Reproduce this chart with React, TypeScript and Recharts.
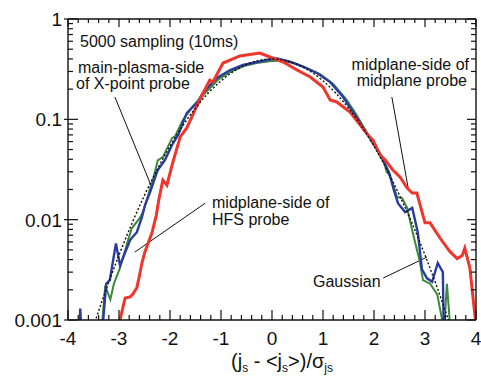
import React from 'react';
import { LineChart, Line, XAxis, YAxis, ReferenceLine } from 'recharts';

const FONT = '"Liberation Sans", Arial, Helvetica, sans-serif';

// tick positions
const xTicks = [
  -4, -3.8, -3.6, -3.4, -3.2, -3, -2.8, -2.6, -2.4, -2.2, -2, -1.8, -1.6, -1.4, -1.2, -1, -0.8, -0.6, -0.4, -0.2,
  0, 0.2, 0.4, 0.6, 0.8, 1, 1.2, 1.4, 1.6, 1.8, 2, 2.2, 2.4, 2.6, 2.8, 3, 3.2, 3.4, 3.6, 3.8, 4,
];
const yTicks = [
  0.001, 0.002, 0.003, 0.004, 0.005, 0.006, 0.007, 0.008, 0.009,
  0.01, 0.02, 0.03, 0.04, 0.05, 0.06, 0.07, 0.08, 0.09,
  0.1, 0.2, 0.3, 0.4, 0.5, 0.6, 0.7, 0.8, 0.9, 1,
];
const yMajor = [0.001, 0.01, 0.1, 1];
const yMajorLabels = ['0.001', '0.01', '0.1', '1'];

// midplane-side of midplane probe (red)
const redX = [
  -3.05, -2.98, -2.88, -2.78, -2.73, -2.65, -2.61, -2.55, -2.49, -2.35, -2.27, -2.22, -2.14, -2.06, -1.96, -1.8,
  -1.67, -1.51, -1.35, -1.22, -1.16, -0.96, -0.63, -0.24, -0.04, 0.22, 0.49, 0.75, 1.0, 1.14, 1.27, 1.53, 1.73,
  1.88, 1.98, 2.12, 2.22, 2.37, 2.51, 2.65, 2.75, 2.84, 3.0, 3.1, 3.29, 3.49, 3.63, 3.73, 3.78, 3.88, 3.98, 4.02,
];
const redY = [
  0.0007, 0.001, 0.00166, 0.0017, 0.0018, 0.0021, 0.0026, 0.0037, 0.0048, 0.0075, 0.011, 0.0157, 0.0248, 0.0221,
  0.035, 0.0667, 0.082, 0.124, 0.183, 0.246, 0.236, 0.364, 0.428, 0.458, 0.418, 0.373, 0.31, 0.264, 0.21, 0.156,
  0.149, 0.118, 0.0877, 0.0697, 0.0622, 0.0441, 0.0393, 0.0312, 0.0266, 0.0207, 0.0184, 0.0184, 0.0093, 0.0093,
  0.0066, 0.0048, 0.0041, 0.0044, 0.0052, 0.0033, 0.0011, 0.0007,
];

// main-plasma-side of X-point probe (blue)
const blueX = [
  -3.8, -3.76, -3.72, -3.4, -3.31, -3.25, -3.18, -3.06, -2.98, -2.88, -2.78, -2.65, -2.55, -2.49, -2.39, -2.29,
  -2.24, -2.1, -1.96, -1.84, -1.75, -1.67, -1.47, -1.35, -1.08, -0.82, -0.57, -0.29, -0.1, 0.1, 0.35, 0.61, 0.88,
  1.14, 1.39, 1.59, 1.82, 2.06, 2.18, 2.3, 2.39, 2.47, 2.61, 2.75, 2.86, 2.94, 3.04, 3.14, 3.25, 3.35, 3.37,
];
const blueY = [
  0.0005, 0.0013, 0.0005, 0.0005, 0.001, 0.0023, 0.0025, 0.0058, 0.0035, 0.0047, 0.0063, 0.0075, 0.0106, 0.014,
  0.0188, 0.0266, 0.0312, 0.0393, 0.0555, 0.0697, 0.092, 0.116, 0.146, 0.185, 0.258, 0.31, 0.348, 0.373, 0.39,
  0.405, 0.375, 0.335, 0.29, 0.235, 0.168, 0.118, 0.078, 0.05, 0.039, 0.029, 0.0197, 0.0146, 0.0119, 0.0131,
  0.0074, 0.0032, 0.0026, 0.0024, 0.0037, 0.003, 0.0006,
];

// midplane-side of HFS probe (green)
const greenX = [
  -3.36, -3.27, -3.17, -3.1, -2.98, -2.82, -2.75, -2.59, -2.53, -2.45, -2.39, -2.33, -2.24, -2.14, -1.96, -1.9,
  -1.75, -1.55, -1.3, -1.05, -0.8, -0.55, -0.3, -0.05, 0.2, 0.45, 0.7, 0.95, 1.2, 1.45, 1.65, 1.85, 2.05, 2.18,
  2.25, 2.3, 2.41, 2.45, 2.55, 2.65, 2.76, 2.9, 2.96, 3.1, 3.24, 3.33, 3.39, 3.43, 3.49, 3.52,
];
const greenY = [
  0.0006, 0.0022, 0.0016, 0.0023, 0.0033, 0.0063, 0.0082, 0.0104, 0.0119, 0.016, 0.0205, 0.0256, 0.039, 0.042,
  0.065, 0.068, 0.098, 0.135, 0.185, 0.25, 0.3, 0.34, 0.365, 0.38, 0.385, 0.36, 0.32, 0.28, 0.225, 0.16, 0.112,
  0.075, 0.052, 0.04, 0.0298, 0.028, 0.0197, 0.0168, 0.0164, 0.0131, 0.0074, 0.0038, 0.0025, 0.0023, 0.0018,
  0.00104, 0.00107, 0.0023, 0.0009, 0.0006,
];

// Gaussian (dotted)
const gaussX = [
  -3.5, -3.25, -3, -2.75, -2.5, -2.25, -2, -1.75, -1.5, -1.25, -1, -0.75, -0.5, -0.25, 0,
  0.25, 0.5, 0.75, 1, 1.25, 1.5, 1.75, 2, 2.25, 2.5, 2.75, 3, 3.25, 3.5,
];
const gaussY = [
  0.00087, 0.00203, 0.00443, 0.00909, 0.0175, 0.0317, 0.054, 0.0863, 0.1295, 0.1826, 0.242, 0.3011, 0.3521, 0.3867,
  0.3989, 0.3867, 0.3521, 0.3011, 0.242, 0.1826, 0.1295, 0.0863, 0.054, 0.0317, 0.0175, 0.00909, 0.00443, 0.00203,
  0.00087,
];

const toPoints = (xs: number[], ys: number[]) => xs.map((x, i) => ({ x, y: ys[i] }));
const redData = toPoints(redX, redY);
const blueData = toPoints(blueX, blueY);
const greenData = toPoints(greenX, greenY);
const gaussData = toPoints(gaussX, gaussY);

// leader lines from labels to curves
const leaders = [
  [{ x: -3.08, y: 0.167 }, { x: -2.35, y: 0.0206 }],
  [{ x: -1.31, y: 0.0146 }, { x: -2.69, y: 0.00475 }],
  [{ x: 2.35, y: 0.167 }, { x: 2.67, y: 0.0207 }],
  [{ x: 2.18, y: 0.00262 }, { x: 3.04, y: 0.00424 }],
];

const AX = '#111';

const BottomTick = (props: any) => {
  const { x, y, payload } = props;
  const major = Number.isInteger(payload.value);
  return (
    <g>
      <line x1={x} x2={x} y1={y} y2={y - (major ? 10 : 5)} stroke={AX} strokeWidth={1.2} />
      {major && (
        <text x={x} y={y + 25} textAnchor="middle" fontSize={19} fontFamily={FONT} fill="#111">
          {payload.value}
        </text>
      )}
    </g>
  );
};

const TopTick = (props: any) => {
  const { x, y, payload } = props;
  const major = Number.isInteger(payload.value);
  return <line x1={x} x2={x} y1={y} y2={y + (major ? 8 : 4)} stroke={AX} strokeWidth={1.2} />;
};

const LeftTick = (props: any) => {
  const { x, y, payload } = props;
  const idx = yMajor.indexOf(payload.value);
  const major = idx >= 0;
  return (
    <g>
      <line x1={major ? x - 4 : x} x2={x + (major ? 10 : 5)} y1={y} y2={y} stroke={AX} strokeWidth={1.2} />
      {major && (
        <text x={x - 6} y={y + 7} textAnchor="end" fontSize={19} fontFamily={FONT} fill="#111">
          {yMajorLabels[idx]}
        </text>
      )}
    </g>
  );
};

const RightTick = (props: any) => {
  const { x, y, payload } = props;
  const major = yMajor.indexOf(payload.value) >= 0;
  return <line x1={x} x2={x - (major ? 9 : 5)} y1={y} y2={y} stroke={AX} strokeWidth={1.2} />;
};

const Annotations = () => (
  <svg
    width={481}
    height={380}
    style={{ position: 'absolute', left: 0, top: 0, pointerEvents: 'none' }}
    fontFamily={FONT}
    fill="#111"
  >
    <text x={80} y={47} fontSize={16}>5000 sampling (10ms)</text>
    <text x={78} y={73} fontSize={16}>main-plasma-side</text>
    <text x={76} y={89} fontSize={16}>of X-point probe</text>
    <text x={469} y={70} fontSize={16} textAnchor="end">midplane-side of</text>
    <text x={467} y={86} fontSize={16} textAnchor="end">midplane probe</text>
    <text x={212} y={208} fontSize={16}>midplane-side of</text>
    <text x={212} y={225} fontSize={16}>HFS probe</text>
    <text x={313} y={287} fontSize={16}>Gaussian</text>
    <text x={282} y={368} fontSize={20} textAnchor="middle">
      (j<tspan fontSize={12} dy={4}>s</tspan>
      <tspan dy={-4}>{' - <j'}</tspan>
      <tspan fontSize={12} dy={4}>s</tspan>
      <tspan dy={-4}>{'>)/σ'}</tspan>
      <tspan fontSize={12} dy={4}>js</tspan>
    </text>
  </svg>
);

export default function App() {
  return (
    <div style={{ position: 'absolute', left: 0, top: 0, width: 481, height: 380, background: '#fff' }}>
      <LineChart width={481} height={380} margin={{ top: 0, right: 0, bottom: 0, left: 0 }}>
        <XAxis
          xAxisId="b"
          type="number"
          dataKey="x"
          domain={[-4, 4]}
          ticks={xTicks}
          interval={0}
          allowDataOverflow
          height={60}
          tickSize={0}
          tickMargin={0}
          tickLine={false}
          tick={BottomTick}
          axisLine={{ stroke: AX, strokeWidth: 1.4 }}
        />
        <XAxis
          xAxisId="t"
          orientation="top"
          type="number"
          dataKey="x"
          domain={[-4, 4]}
          ticks={xTicks}
          interval={0}
          allowDataOverflow
          height={19}
          tickSize={0}
          tickMargin={0}
          tickLine={false}
          tick={TopTick}
          axisLine={{ stroke: AX, strokeWidth: 1.4 }}
        />
        <YAxis
          yAxisId="l"
          scale="log"
          type="number"
          domain={[0.001, 1]}
          ticks={yTicks}
          interval={0}
          allowDataOverflow
          width={68}
          tickSize={0}
          tickMargin={0}
          tickLine={false}
          tick={LeftTick}
          axisLine={{ stroke: AX, strokeWidth: 1.4 }}
        />
        <YAxis
          yAxisId="r"
          orientation="right"
          scale="log"
          type="number"
          domain={[0.001, 1]}
          ticks={yTicks}
          interval={0}
          allowDataOverflow
          width={5}
          tickSize={0}
          tickMargin={0}
          tickLine={false}
          tick={RightTick}
          axisLine={{ stroke: AX, strokeWidth: 1.4 }}
        />
        {leaders.map((seg, i) => (
          <ReferenceLine
            key={i}
            xAxisId="b"
            yAxisId="l"
            segment={seg}
            stroke="#111"
            strokeWidth={1}
          />
        ))}
        <Line
          xAxisId="b"
          yAxisId="l"
          data={greenData}
          dataKey="y"
          type="linear"
          stroke="#3a8a3a"
          strokeWidth={2}
          dot={false}
          isAnimationActive={false}
        />
        <Line
          xAxisId="b"
          yAxisId="l"
          data={blueData}
          dataKey="y"
          type="linear"
          stroke="#2b3b9e"
          strokeWidth={2.4}
          dot={false}
          isAnimationActive={false}
        />
        <Line
          xAxisId="b"
          yAxisId="l"
          data={redData}
          dataKey="y"
          type="linear"
          stroke="#f0352a"
          strokeWidth={3}
          dot={false}
          isAnimationActive={false}
        />
        <Line
          xAxisId="b"
          yAxisId="l"
          data={gaussData}
          dataKey="y"
          type="monotone"
          stroke="#111"
          strokeWidth={1.4}
          strokeDasharray="2 2"
          dot={false}
          isAnimationActive={false}
        />
      </LineChart>
      <Annotations />
    </div>
  );
}
